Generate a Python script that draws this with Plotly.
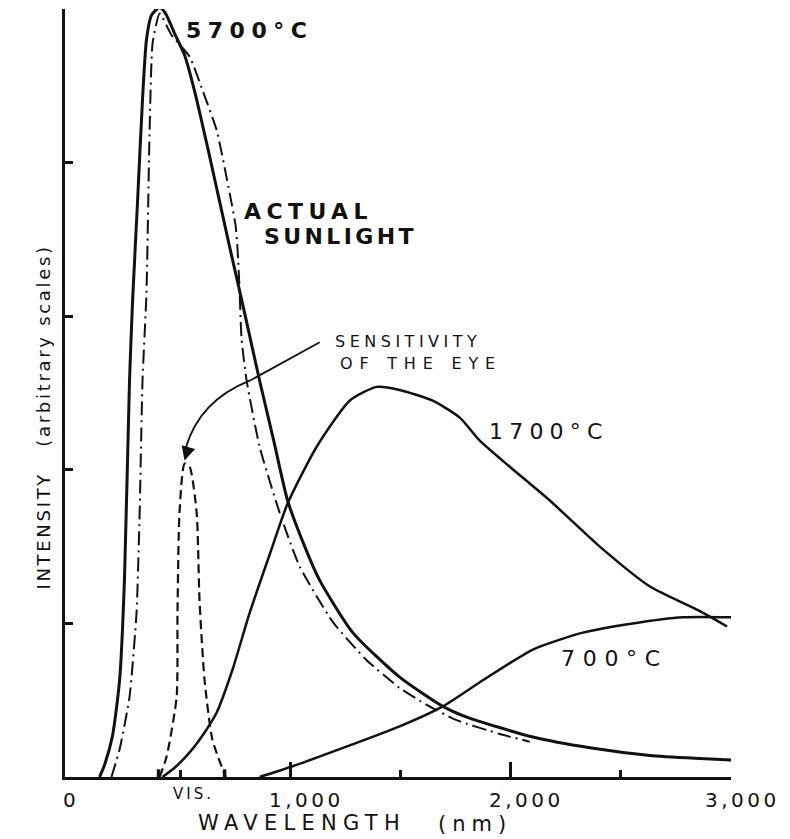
import plotly.graph_objects as go

# --- data (wavelength in nm, intensity in arbitrary units 0-5) ---
bb5700_nm = [132, 155, 191, 223, 245, 268, 282, 305, 327, 345, 368, 405, 432, 473, 518, 568,
             632, 723, 791, 859, 923, 986, 1064, 1132, 1282, 1495, 1691, 1800, 2100, 2359,
             2632, 2859, 3004]
bb5700_int = [0, 0.08, 0.27, 0.63, 1.28, 2.58, 3.10, 3.76, 4.41, 4.80, 4.96, 5.01, 4.97, 4.84, 4.70, 4.44,
              4.04, 3.45, 3.02, 2.58, 2.19, 1.80, 1.50, 1.28, 0.94, 0.65, 0.46, 0.39, 0.26, 0.19,
              0.14, 0.12, 0.11]

sun_nm = [186, 223, 268, 300, 314, 327, 345, 359, 373, 405, 459, 541, 600, 664, 723, 750, 759,
          768, 777, 800, 859, 950, 1041, 1191, 1345, 1495, 1618, 1754, 1950, 2086]
sun_int = [0, 0.18, 0.52, 1.07, 1.72, 2.58, 3.15, 4.19, 4.78, 4.97, 4.83, 4.69, 4.47, 4.21, 3.80, 3.59, 3.43,
           3.17, 2.85, 2.58, 2.15, 1.72, 1.37, 1.01, 0.76, 0.58, 0.47, 0.37, 0.28, 0.23]

bb1700_nm = [418, 473, 541, 609, 664, 736, 814, 905, 986, 1118, 1268, 1391, 1495, 1645, 1768,
             1859, 1995, 2177, 2404, 2632, 2859, 2982]
bb1700_int = [0, 0.06, 0.16, 0.29, 0.42, 0.70, 1.07, 1.45, 1.78, 2.15, 2.45, 2.54, 2.52, 2.45, 2.34,
              2.19, 2.02, 1.80, 1.50, 1.24, 1.08, 0.98]

bb700_nm = [859, 1009, 1495, 1691, 1873, 2100, 2327, 2554, 2782, 3004]
bb700_int = [0, 0.07, 0.33, 0.46, 0.63, 0.83, 0.94, 1.00, 1.04, 1.04]

eye_nm = [405, 436, 482, 486, 495, 518, 541, 573, 586, 609, 645, 705]
eye_int = [0, 0.13, 0.52, 1.07, 1.72, 2.04, 2.02, 1.72, 1.15, 0.63, 0.24, 0]

vis_band = [400, 700]
x_major = [1000, 2000]
x_minor = [500, 1500, 2500]
x_labels = ['0', '1,000', '2,000', '3,000']
x_label_vals = [0, 1000, 2000, 3000]
y_ticks = [1, 2, 3, 4, 5]

INK = '#111111'
FONT = 'DejaVu Sans'

fig = go.Figure()

fig.add_trace(go.Scatter(x=bb5700_nm, y=bb5700_int, mode='lines', cliponaxis=False,
                         line=dict(color=INK, width=3, shape='spline', smoothing=0.6)))
fig.add_trace(go.Scatter(x=sun_nm, y=sun_int, mode='lines', cliponaxis=False,
                         line=dict(color=INK, width=2, dash='14px,5px,2px,5px',
                                   shape='spline', smoothing=0.5)))
fig.add_trace(go.Scatter(x=bb1700_nm, y=bb1700_int, mode='lines', cliponaxis=False,
                         line=dict(color=INK, width=2.5, shape='spline', smoothing=0.6)))
fig.add_trace(go.Scatter(x=bb700_nm, y=bb700_int, mode='lines', cliponaxis=False,
                         line=dict(color=INK, width=2.5, shape='spline', smoothing=0.6)))
fig.add_trace(go.Scatter(x=eye_nm, y=eye_int, mode='lines', cliponaxis=False,
                         line=dict(color=INK, width=2.2, dash='9px,5px',
                                   shape='spline', smoothing=0.6)))

# VIS. band markers crossing the axis
for v in vis_band:
    fig.add_shape(type='line', xref='x', yref='y', x0=v, x1=v, y0=0.05, y1=-0.09,
                  line=dict(color=INK, width=3.5))

# pointer from the label to the eye curve
fig.add_shape(type='path', xref='x', yref='y',
              path='M 1132,2.83 L 814,2.58 Q 586,2.45 523,2.14',
              line=dict(color=INK, width=1.8))
fig.add_annotation(x=518, y=2.06, xref='x', yref='y', text='', showarrow=True,
                   ax=4, ay=-14, arrowhead=2, arrowsize=1.4, arrowwidth=2, arrowcolor=INK)


def spaced(text, sp, bold=False):
    s = f'<span style="letter-spacing:{sp}px">{text}</span>'
    return f'<b>{s}</b>' if bold else s


def label(text, x, y, size, sp, xanchor='left', yanchor='middle', bold=False, **kw):
    fig.add_annotation(x=x, y=y, text=spaced(text, sp, bold), showarrow=False, xanchor=xanchor,
                       yanchor=yanchor, borderpad=0,
                       font=dict(family=FONT, size=size, color=INK), **kw)


label('5700°C', 518, 4.86, 22, 6.5, bold=True)
label('ACTUAL', 782, 3.68, 22, 5.4, bold=True)
label('SUNLIGHT', 873, 3.52, 22, 3.4, bold=True)
label('SENSITIVITY', 1196, 2.768, 16, 4.5, yanchor='bottom')
label('OF THE EYE', 1218, 2.760, 16, 6.8, yanchor='top')
label('1700°C', 1895, 2.25, 22, 6.2)
label('700°C', 2222, 0.77, 22, 7.7)
label('VIS.', 459, 0, 15, 3, yshift=-17)

# axis numbers and title
label_shift = [0, 16, 16, 11]
for val, txt, sh in zip(x_label_vals, x_labels, label_shift):
    label(txt, val, 0, 20, 3.5, xanchor='center', xshift=sh, yshift=-23)
label('WAVELENGTH', 573, 0, 21, 6.3, yshift=-46)
label('(nm)', 1664, 0, 21, 6, yshift=-47)

fig.add_annotation(x=-0.0315, y=2.34, xref='paper', yref='y', showarrow=False,
                   xanchor='center', yanchor='middle',
                   text=spaced('INTENSITY&nbsp;&nbsp;&nbsp;(arbitrary scales)', 2.7),
                   textangle=-90, font=dict(family=FONT, size=18, color=INK))

fig.update_xaxes(range=[-25, 3000], showline=True, linecolor=INK, linewidth=3,
                 showgrid=False, zeroline=False, showticklabels=False,
                 ticks='inside', tickvals=x_major, ticklen=15, tickwidth=3, tickcolor=INK,
                 minor=dict(tickvals=x_minor, ticks='inside', ticklen=7, tickwidth=3,
                            tickcolor=INK, showgrid=False))
fig.update_yaxes(range=[0, 5], showline=True, linecolor=INK, linewidth=3,
                 showgrid=False, zeroline=False, showticklabels=False,
                 ticks='inside', tickvals=y_ticks, ticklen=8, tickwidth=2.5, tickcolor=INK)

fig.update_layout(width=790, height=839, showlegend=False,
                  margin=dict(l=65, r=59, t=9, b=62),
                  paper_bgcolor='white', plot_bgcolor='white')

# page body margin would otherwise shift the figure by 8px
fig.write_html("out.html", config={'displayModeBar': False},
               post_script="document.body.style.margin='0px';")
